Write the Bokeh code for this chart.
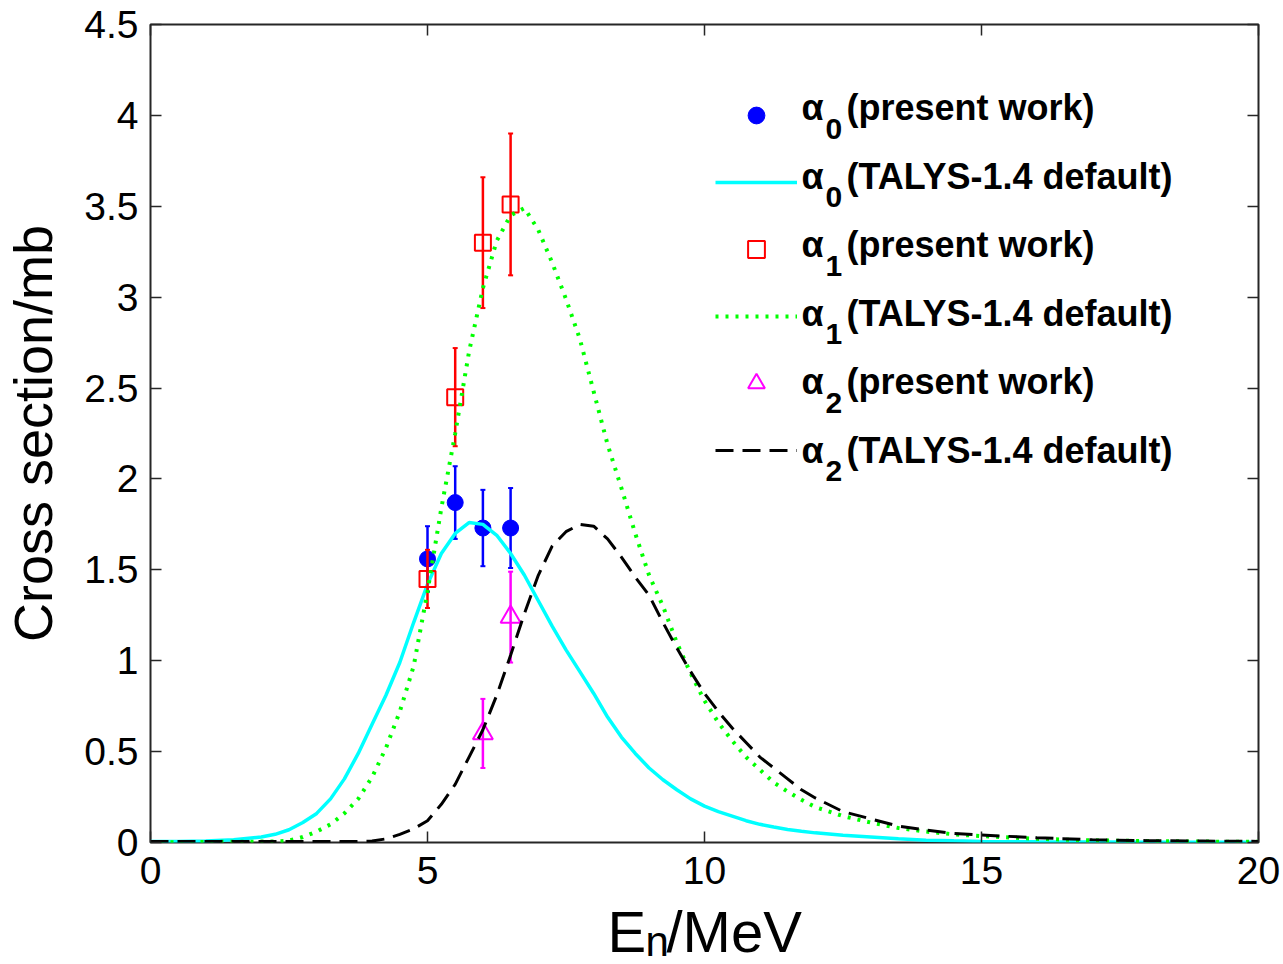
from bokeh.plotting import figure
from bokeh.layouts import column
from bokeh.models import (ColumnDataSource, LinearAxis, FixedTicker, Legend,
                          LegendItem, Label, Range1d)
from bokeh.embed import file_html
from bokeh.resources import INLINE

# ---------------------------------------------------------------------------
# TALYS-1.4 (default parameters) cross sections, mb, on an energy grid in MeV
# ---------------------------------------------------------------------------
E_GRID = [0, 0.5, 1, 1.5,
          2, 2.25, 2.5, 2.75, 3, 3.25, 3.5, 3.75, 4, 4.25, 4.5, 4.75,
          5, 5.25, 5.5, 5.75, 6, 6.25, 6.5, 6.75, 7, 7.25, 7.5, 7.75,
          8, 8.25, 8.5, 8.75, 9, 9.25, 9.5, 9.75, 10, 10.25, 10.5, 10.75,
          11, 11.25, 11.5, 11.75, 12,
          12.5, 13, 13.5, 14, 14.5, 15,
          16, 17, 18, 19, 20]

TALYS_A0 = [0.005, 0.006, 0.008, 0.015,
            0.03, 0.045, 0.07, 0.11, 0.16, 0.24, 0.35, 0.49, 0.65, 0.81, 0.99, 1.21,
            1.42, 1.59, 1.70, 1.76, 1.75, 1.69, 1.59, 1.47, 1.33, 1.19, 1.06, 0.94,
            0.82, 0.69, 0.58, 0.49, 0.41, 0.345, 0.29, 0.24, 0.20, 0.17, 0.145, 0.12,
            0.10, 0.085, 0.072, 0.062, 0.053,
            0.04, 0.03, 0.02, 0.013, 0.009, 0.006,
            0.004, 0.003, 0.002, 0.002, 0.001]

TALYS_A1 = [0.002, 0.002, 0.003, 0.004,
            0.005, 0.006, 0.01, 0.03, 0.06, 0.10, 0.16, 0.24, 0.36, 0.52, 0.72, 0.97,
            1.38, 1.84, 2.25, 2.70, 3.05, 3.31, 3.45, 3.49, 3.37, 3.19, 2.99, 2.77,
            2.48, 2.19, 1.95, 1.70, 1.47, 1.30, 1.10, 0.93, 0.78, 0.66, 0.56, 0.47,
            0.40, 0.33, 0.28, 0.235, 0.195,
            0.145, 0.11, 0.08, 0.06, 0.045, 0.035,
            0.02, 0.012, 0.008, 0.005, 0.004]

TALYS_A2 = [0.005, 0.005, 0.005, 0.005,
            0.005, 0.005, 0.005, 0.005, 0.005, 0.005, 0.005, 0.006, 0.008, 0.02, 0.045, 0.075,
            0.12, 0.21, 0.32, 0.47, 0.62, 0.81, 1.03, 1.26, 1.47, 1.63, 1.71, 1.75,
            1.74, 1.67, 1.57, 1.46, 1.36, 1.21, 1.07, 0.94, 0.82, 0.72, 0.63, 0.55,
            0.47, 0.41, 0.35, 0.29, 0.245,
            0.17, 0.13, 0.09, 0.068, 0.05, 0.041,
            0.026, 0.015, 0.01, 0.008, 0.006]

# ---------------------------------------------------------------------------
# measured cross sections (present work), mb, with uncertainties
# ---------------------------------------------------------------------------
E_A0 = [5.0, 5.5, 6.0, 6.5]
SIG_A0 = [1.56, 1.87, 1.73, 1.73]
ERR_A0 = [0.18, 0.20, 0.21, 0.22]

E_A1 = [5.0, 5.5, 6.0, 6.5]
SIG_A1 = [1.45, 2.45, 3.30, 3.51]
ERR_A1 = [0.16, 0.27, 0.36, 0.39]

E_A2 = [6.0, 6.5]
SIG_A2 = [0.60, 1.24]
ERR_A2 = [0.19, 0.25]

X_TICKS = [0, 5, 10, 15, 20]
X_TICK_LABELS = ["0", "5", "10", "15", "20"]
Y_TICKS = [0, 0.5, 1, 1.5, 2, 2.5, 3, 3.5, 4, 4.5]
Y_TICK_LABELS = ["0", "0.5", "1", "1.5", "2", "2.5", "3", "3.5", "4", "4.5"]

Y_TITLE = "Cross section/mb"
X_TITLE = ("E", "n", "/MeV")          # main symbol, subscript, unit

# legend entries: (greek letter, subscript, remainder)
LEGEND_TEXT = [("α", "0", "(present work)"),
               ("α", "0", "(TALYS-1.4 default)"),
               ("α", "1", "(present work)"),
               ("α", "1", "(TALYS-1.4 default)"),
               ("α", "2", "(present work)"),
               ("α", "2", "(TALYS-1.4 default)")]

FONT = "Liberation Sans"
AXIS_COLOR = "#262626"
W, H_MAIN, H_XTITLE = 1283, 900, 64


def key(t):
    return int(t) if float(t).is_integer() else t


p = figure(width=W, height=H_MAIN,
           x_range=Range1d(0, 20), y_range=Range1d(0, 4.5),
           output_backend="svg", toolbar_location=None,
           min_border_left=150, min_border_right=25,
           min_border_top=24, min_border_bottom=H_MAIN - 842,
           background_fill_color="white", border_fill_color="white")
p.grid.visible = False
p.outline_line_color = AXIS_COLOR
p.outline_line_width = 2

# main axes: inward ticks, large labels
for ax, ticks, labels in ((p.xaxis[0], X_TICKS, X_TICK_LABELS),
                          (p.yaxis[0], Y_TICKS, Y_TICK_LABELS)):
    ax.ticker = FixedTicker(ticks=ticks)
    ax.major_label_overrides = {key(t): s for t, s in zip(ticks, labels)}
    ax.axis_line_color = None
    ax.major_tick_in = 11
    ax.major_tick_out = 0
    ax.major_tick_line_color = AXIS_COLOR
    ax.major_tick_line_width = 1.5
    ax.minor_tick_line_color = None
    ax.major_label_text_font = FONT
    ax.major_label_text_font_size = "39px"
    ax.major_label_text_color = "black"
p.xaxis[0].major_label_standoff = 14
p.yaxis[0].major_label_standoff = 12

yax = p.yaxis[0]
yax.axis_label = Y_TITLE
yax.axis_label_text_font = FONT
yax.axis_label_text_font_size = "54px"
yax.axis_label_text_font_style = "normal"
yax.axis_label_text_color = "black"
yax.axis_label_standoff = 18

# mirrored ticks on the top and right edges of the box (no labels)
for side, ticks in (("above", X_TICKS), ("right", Y_TICKS)):
    mirror = LinearAxis(ticker=FixedTicker(ticks=ticks),
                        axis_line_color=None,
                        major_tick_in=11, major_tick_out=0,
                        major_tick_line_color=AXIS_COLOR,
                        major_tick_line_width=1.5,
                        minor_tick_line_color=None,
                        major_label_text_color=None,
                        major_label_text_font_size="1px",
                        major_label_standoff=0)
    p.add_layout(mirror, side)


def error_bars(e, sig, err, color):
    src = ColumnDataSource(dict(x=e,
                                lo=[s - d for s, d in zip(sig, err)],
                                hi=[s + d for s, d in zip(sig, err)]))
    p.segment(x0="x", y0="lo", x1="x", y1="hi", source=src,
              line_color=color, line_width=2.5)
    p.scatter(x="x", y="lo", source=src, marker="dash", size=5,
              line_color=color, line_width=2)
    p.scatter(x="x", y="hi", source=src, marker="dash", size=5,
              line_color=color, line_width=2)


# alpha_0
error_bars(E_A0, SIG_A0, ERR_A0, "#0000FF")
r_pw0 = p.scatter(E_A0, SIG_A0, marker="circle", size=16,
                  fill_color="#0000FF", line_color="#0000FF")
r_ta0 = p.line(E_GRID, TALYS_A0, line_color="#00FFFF", line_width=3.5)

# alpha_1
error_bars(E_A1, SIG_A1, ERR_A1, "#FF0000")
r_pw1 = p.scatter(E_A1, SIG_A1, marker="square", size=16,
                  fill_color=None, line_color="#FF0000", line_width=2)
r_ta1 = p.line(E_GRID, TALYS_A1, line_color="#00FF00", line_width=4,
               line_dash="3 7")

# alpha_2
error_bars(E_A2, SIG_A2, ERR_A2, "#FF00FF")
r_pw2 = p.scatter(E_A2, SIG_A2, marker="triangle", size=20,
                  fill_color=None, line_color="#FF00FF", line_width=2)
r_ta2 = p.line(E_GRID, TALYS_A2, line_color="black", line_width=3,
               line_dash="18 9")

# legend samples; the label texts are drawn separately to get subscripts
legend = Legend(items=[LegendItem(label=" ", renderers=[r])
                       for r in (r_pw0, r_ta0, r_pw1, r_ta1, r_pw2, r_ta2)],
                location=(565, 371), orientation="vertical",
                glyph_width=82, glyph_height=42, label_height=42,
                label_width=0, label_standoff=0, spacing=25,
                padding=0, margin=0,
                border_line_alpha=0, background_fill_alpha=0,
                label_text_color=None, label_text_font_size="1px")
p.add_layout(legend)

# legend labels: greek letter, lowered subscript, remainder (frame pixels)
for i, (greek, sub, rest) in enumerate(LEGEND_TEXT):
    y_main = 842 - (107 + 68.5 * i)
    for txt, x, y, size in ((greek, 651, y_main, "36px"),
                            (sub, 675, y_main - 21, "30px"),
                            (rest, 696, y_main, "36px")):
        p.add_layout(Label(x=x, y=y, x_units="screen", y_units="screen",
                           text=txt, text_font=FONT, text_font_size=size,
                           text_font_style="bold", text_color="black",
                           text_baseline="alphabetic", text_align="left"))

# x-axis title strip below the plot (subscripted symbol); its frame shares
# the left edge of the main plot frame
xt = figure(width=W, height=H_XTITLE,
            x_range=Range1d(0, W), y_range=Range1d(0, H_XTITLE),
            x_axis_type=None, y_axis_type=None,
            output_backend="svg", toolbar_location=None,
            min_border=0, outline_line_color=None,
            background_fill_color="white", border_fill_color="white")
xt.grid.visible = False
xt.title.visible = False
sym, sub, unit = X_TITLE
for txt, x, y, size in ((sym, 457, 33, "58px"),
                        (sub, 495, 23, "42px"),
                        (unit, 516, 33, "58px")):
    xt.add_layout(Label(x=x, y=y, x_units="screen", y_units="screen",
                        text=txt, text_font=FONT, text_font_size=size,
                        text_color="black", text_align="left",
                        text_baseline="alphabetic"))

layout = column(p, xt, spacing=0)
open("out.html", "w").write(file_html(layout, INLINE))
